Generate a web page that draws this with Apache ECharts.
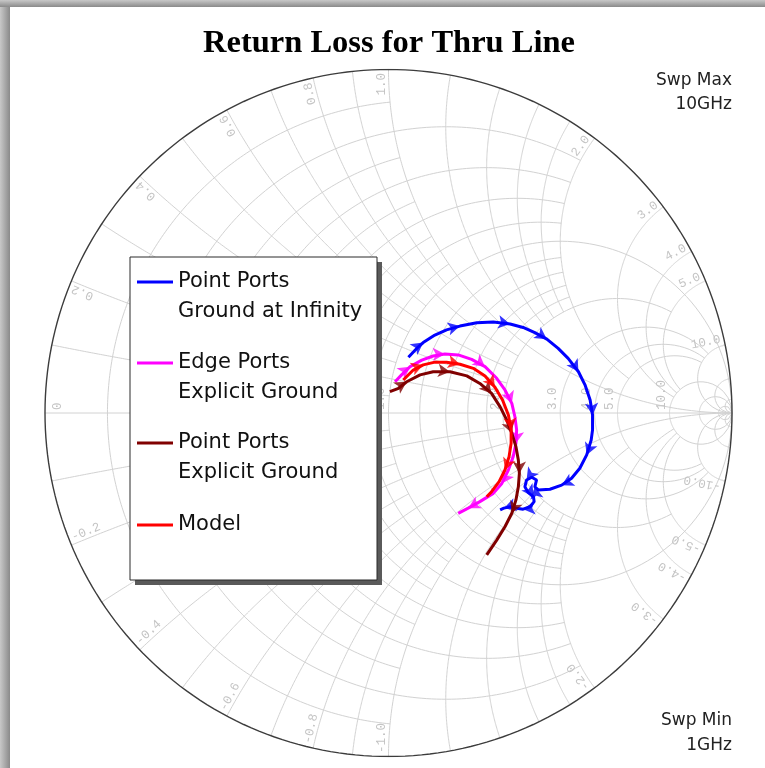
<!DOCTYPE html>
<html>
<head>
<meta charset="utf-8">
<script src="https://cdn.jsdelivr.net/npm/echarts@6/dist/echarts.min.js"></script>
<style>
  html, body { margin: 0; padding: 0; background: #ffffff; }
  #chart { width: 765px; height: 768px; }
</style>
</head>
<body>
<div id="chart"></div>
<script>
// Reflection coefficient S11 (real / imaginary), swept 1 GHz -> 10 GHz
const pointInfRe = [0.058, 0.082, 0.101, 0.135, 0.169, 0.208, 0.257, 0.305, 0.354, 0.392, 0.426, 0.461, 0.494, 0.523, 0.553, 0.572, 0.587, 0.594, 0.594, 0.590, 0.577, 0.557, 0.533, 0.504, 0.470, 0.436, 0.426, 0.431, 0.417, 0.402, 0.397, 0.407, 0.422, 0.424, 0.412, 0.392, 0.373, 0.354, 0.336, 0.325];
const pointInfIm = [0.162, 0.188, 0.205, 0.227, 0.242, 0.253, 0.263, 0.265, 0.259, 0.249, 0.234, 0.215, 0.188, 0.159, 0.120, 0.082, 0.038, -0.006, -0.049, -0.079, -0.122, -0.161, -0.190, -0.210, -0.222, -0.224, -0.215, -0.195, -0.187, -0.195, -0.215, -0.232, -0.244, -0.258, -0.273, -0.280, -0.277, -0.273, -0.277, -0.282];

const edgeExpRe = [0.019, 0.038, 0.063, 0.097, 0.130, 0.164, 0.203, 0.242, 0.281, 0.315, 0.339, 0.359, 0.368, 0.373, 0.371, 0.363, 0.349, 0.330, 0.305, 0.266, 0.232, 0.203];
const edgeExpIm = [0.091, 0.111, 0.135, 0.154, 0.166, 0.172, 0.169, 0.156, 0.135, 0.101, 0.067, 0.028, -0.011, -0.049, -0.088, -0.127, -0.166, -0.205, -0.234, -0.258, -0.277, -0.292];

const pointExpRe = [0.004, 0.029, 0.053, 0.092, 0.130, 0.179, 0.228, 0.266, 0.300, 0.325, 0.344, 0.359, 0.371, 0.378, 0.381, 0.378, 0.371, 0.359, 0.339, 0.315, 0.286];
const pointExpIm = [0.062, 0.072, 0.091, 0.111, 0.120, 0.120, 0.108, 0.086, 0.057, 0.018, -0.020, -0.059, -0.098, -0.137, -0.176, -0.215, -0.253, -0.292, -0.331, -0.370, -0.413];

const modelRe = [0.043, 0.072, 0.101, 0.135, 0.169, 0.208, 0.247, 0.281, 0.310, 0.332, 0.349, 0.357, 0.357, 0.351, 0.339, 0.322, 0.300, 0.286];
const modelIm = [0.096, 0.125, 0.140, 0.148, 0.148, 0.142, 0.130, 0.108, 0.075, 0.038, -0.006, -0.049, -0.088, -0.127, -0.166, -0.200, -0.229, -0.244];

const traceNames = ['Point Ports\nGround at Infinity', 'Edge Ports\nExplicit Ground', 'Point Ports\nExplicit Ground', 'Model'];
const traceColors = ['#0000ff', '#ff00ff', '#800000', '#ff0000'];

// Smith chart grid: [normalized value, limit of the crossing family]
const resistanceCircles = [
  [0.1, 1], [0.2, 2], [0.3, 1], [0.4, 2], [0.5, 1], [0.6, 2], [0.7, 1], [0.8, 2], [0.9, 1], [1.0, Infinity],
  [1.2, 2], [1.4, 2], [1.6, 2], [1.8, 2], [2.0, 5], [3.0, 10], [4.0, 10], [5.0, 10], [10, Infinity], [20, Infinity], [50, Infinity]
];
const reactanceArcs = [
  [0.1, 1], [0.2, 2], [0.3, 1], [0.4, 2], [0.5, 1], [0.6, 2], [0.7, 1], [0.8, 2], [0.9, 1], [1.0, Infinity],
  [1.2, 2], [1.4, 2], [1.6, 2], [1.8, 2], [2.0, 5], [3.0, 10], [4.0, 10], [5.0, 10], [10, Infinity], [20, Infinity], [50, Infinity]
];
const resistanceTicks = [0, 0.2, 0.4, 0.6, 0.8, 1.0, 2.0, 3.0, 4.0, 5.0, 10.0];
const resistanceTickText = ['0', '0.2', '0.4', '0.6', '0.8', '1.0', '2.0', '3.0', '4.0', '5.0', '10.0'];
const reactanceTicks = [0.2, 0.4, 0.6, 0.8, 1.0, 2.0, 3.0, 4.0, 5.0, 10.0];
const reactanceTickText = ['0.2', '0.4', '0.6', '0.8', '1.0', '2.0', '3.0', '4.0', '5.0', '10.0'];

// z = r + jx  ->  reflection coefficient
function gammaOf(r, x) {
  const d = (r + 1) * (r + 1) + x * x;
  return [(r * r - 1 + x * x) / d, (2 * x) / d];
}
function finite(v) { return v === Infinity ? 1e9 : v; }
function resistancePath(r, xLim) {
  const a = Math.atan(finite(xLim)), n = 260, pts = [];
  for (let i = 0; i <= n; i++) pts.push(gammaOf(r, Math.tan(-a + 2 * a * i / n)));
  return pts;
}
function reactancePath(x, rLim) {
  const b = Math.atan(finite(rLim)), n = 200, pts = [];
  for (let i = 0; i <= n; i++) pts.push(gammaOf(Math.tan(b * i / n), x));
  return pts;
}

const gridPaths = [];
resistanceCircles.forEach(([r, lim]) => gridPaths.push({ coords: resistancePath(r, lim) }));
reactanceArcs.forEach(([x, lim]) => {
  gridPaths.push({ coords: reactancePath(x, lim) });
  gridPaths.push({ coords: reactancePath(-x, lim) });
});
gridPaths.push({ coords: [[-1, 0], [1, 0]] });

function zipPoints(re, im) { return re.map((v, i) => [v, im[i]]); }
const traces = [
  zipPoints(pointInfRe, pointInfIm),
  zipPoints(edgeExpRe, edgeExpIm),
  zipPoints(pointExpRe, pointExpIm),
  zipPoints(modelRe, modelIm)
];

// arrowheads showing sweep direction
function arrowData(pts, step, offset) {
  const out = [];
  for (let i = offset; i < pts.length - 1; i += step) {
    const a = pts[Math.max(0, i - 1)], b = pts[i + 1];
    const ang = Math.atan2(b[1] - a[1], b[0] - a[0]) * 180 / Math.PI;
    out.push({ value: pts[i], symbolRotate: ang - 90 });
  }
  return out;
}

const labelFont = '12.5px "Liberation Mono", "DejaVu Sans Mono", monospace';
const labelColor = '#c4c4c4';

const series = [
  {
    type: 'lines', coordinateSystem: 'cartesian2d', polyline: true, silent: true,
    lineStyle: { color: '#d2d2d2', width: 1, opacity: 1 },
    data: gridPaths, animation: false, z: 1
  },
  {
    type: 'lines', coordinateSystem: 'cartesian2d', polyline: true, silent: true,
    lineStyle: { color: '#3c3c3c', width: 1.4, opacity: 1 },
    data: [{ coords: resistancePath(0, Infinity) }], animation: false, z: 2
  },
  {
    type: 'custom', coordinateSystem: 'cartesian2d', silent: true, z: 3, animation: false,
    data: resistanceTicks.map((r, i) => [(r - 1) / (r + 1), 0, i]),
    renderItem: function (params, api) {
      const i = api.value(2);
      const p = api.coord([api.value(0), 0]);
      const dx = resistanceTicks[i] === 0 ? 19 : -1;
      return {
        type: 'text', x: p[0] + dx, y: p[1] - 3, rotation: Math.PI / 2,
        style: { text: resistanceTickText[i], fill: labelColor, font: labelFont, align: 'left', verticalAlign: 'bottom' }
      };
    }
  },
  {
    type: 'custom', coordinateSystem: 'cartesian2d', silent: true, z: 3, animation: false,
    data: reactanceTicks.flatMap((x, i) => [[i, 1], [i, -1]]),
    renderItem: function (params, api) {
      const i = api.value(0), s = api.value(1);
      const x = s * reactanceTicks[i];
      const g = gammaOf(0, x);
      const phi = Math.atan2(g[1], g[0]);
      const p = api.coord([g[0] * 0.99, g[1] * 0.99]);
      return {
        type: 'text', x: p[0], y: p[1], rotation: s > 0 ? phi : phi + Math.PI,
        style: {
          text: (s > 0 ? '' : '-') + reactanceTickText[i], fill: labelColor, font: labelFont,
          align: s > 0 ? 'right' : 'left', verticalAlign: 'bottom'
        }
      };
    }
  }
];

traces.forEach((pts, k) => {
  series.push({
    name: traceNames[k], type: 'line', data: pts, showSymbol: false, smooth: false,
    lineStyle: { color: traceColors[k], width: 3 }, itemStyle: { color: traceColors[k] },
    animation: false, z: 5 + k
  });
  series.push({
    type: 'scatter', data: arrowData(pts, 3, 2), symbol: 'arrow', symbolSize: [10, 12],
    itemStyle: { color: traceColors[k] }, silent: true, animation: false, z: 5 + k
  });
});

// legend panel
const legendX = 130, legendY = 257, legendW = 247, legendH = 323;
const legendRows = [282, 363, 443, 525];
const graphics = [
  { type: 'rect', shape: { x: 0, y: 0, width: 10, height: 768 },
    style: { fill: new echarts.graphic.LinearGradient(0, 0, 1, 0, [{ offset: 0, color: '#c8c8c8' }, { offset: 1, color: '#8a8a8a' }]) }, z: 20 },
  { type: 'rect', shape: { x: 0, y: 0, width: 765, height: 7 },
    style: { fill: new echarts.graphic.LinearGradient(0, 0, 0, 1, [{ offset: 0, color: '#c8c8c8' }, { offset: 1, color: '#8a8a8a' }]) }, z: 20 },
  { type: 'text', x: 389, y: 44, style: { text: 'Return Loss for Thru Line', font: 'bold 32.5px "Liberation Serif", "Times New Roman", serif', fill: '#000', align: 'center', verticalAlign: 'middle' }, z: 20 },
  { type: 'text', x: 732, y: 81, style: { text: 'Swp Max', font: '17px "DejaVu Sans", sans-serif', fill: '#222', align: 'right', verticalAlign: 'middle' }, z: 20 },
  { type: 'text', x: 732, y: 105, style: { text: '10GHz', font: '17px "DejaVu Sans", sans-serif', fill: '#222', align: 'right', verticalAlign: 'middle' }, z: 20 },
  { type: 'text', x: 732, y: 721, style: { text: 'Swp Min', font: '17px "DejaVu Sans", sans-serif', fill: '#222', align: 'right', verticalAlign: 'middle' }, z: 20 },
  { type: 'text', x: 732, y: 746, style: { text: '1GHz', font: '17px "DejaVu Sans", sans-serif', fill: '#222', align: 'right', verticalAlign: 'middle' }, z: 20 },
  { type: 'rect', shape: { x: legendX + 5, y: legendY + 5, width: legendW, height: legendH }, style: { fill: '#5a5a5a' }, z: 30 },
  { type: 'rect', shape: { x: legendX, y: legendY, width: legendW, height: legendH }, style: { fill: '#ffffff', stroke: '#2a2a2a', lineWidth: 1 }, z: 31 }
];
traceNames.forEach((name, k) => {
  const y = legendRows[k];
  graphics.push({ type: 'line', shape: { x1: legendX + 7, y1: y, x2: legendX + 43, y2: y }, style: { stroke: traceColors[k], lineWidth: 3 }, z: 32 });
  graphics.push({ type: 'text', x: legendX + 48, y: y - 15, style: { text: name, font: '21px "DejaVu Sans", sans-serif', lineHeight: 30, fill: '#111', align: 'left', verticalAlign: 'top' }, z: 32 });
});

const chart = echarts.init(document.getElementById('chart'));
chart.setOption({
  animation: false,
  backgroundColor: '#ffffff',
  grid: { left: 45, top: 69.5, width: 687, height: 687, show: false },
  xAxis: { type: 'value', min: -1, max: 1, show: false },
  yAxis: { type: 'value', min: -1, max: 1, show: false },
  series: series,
  graphic: graphics
});
</script>
</body>
</html>
